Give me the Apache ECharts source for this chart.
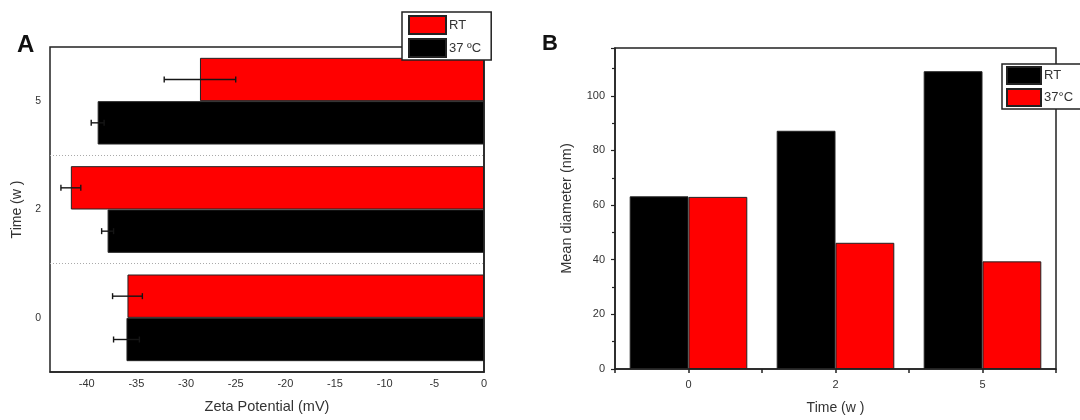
<!DOCTYPE html>
<html>
<head>
<meta charset="utf-8">
<script src="https://cdn.jsdelivr.net/npm/echarts@6/dist/echarts.min.js"></script>
<style>
  html, body { margin: 0; padding: 0; background: #fff; }
  #wrap { position: relative; width: 1080px; height: 420px; }
  #chartA, #chartB { position: absolute; top: 0; width: 540px; height: 420px; }
  #chartA { left: 0; }
  #chartB { left: 540px; }
</style>
</head>
<body>
<div id="wrap">
  <div id="chartA"></div>
  <div id="chartB"></div>
</div>
<script>
// time points (weeks)
const weeks = ['0', '2', '5'];

// panel A: zeta potential (mV)
const zetaRT = [-35.9, -41.6, -28.6];
const zetaRTErr = [1.5, 1.0, 3.6];
const zeta37 = [-36.0, -37.9, -38.9];
const zeta37Err = [1.3, 0.6, 0.65];

// panel B: mean diameter (nm)
const diamRT = [63.2, 87.2, 109.0];
const diam37 = [63.0, 46.2, 39.4];

const FONT = '"Liberation Sans", Arial, sans-serif';
const TXT = '#333';
const FRAME = '#222';

// horizontal error bars, shifted within the band to sit on the right bar
function errorBars(values, errs, shift) {
  return {
    type: 'custom',
    z: 5,
    silent: true,
    data: values.map((v, i) => [i, v, errs[i]]),
    encode: { x: 1, y: 0 },
    renderItem: function (params, api) {
      const cat = api.value(0);
      const v = api.value(1);
      const e = api.value(2);
      const band = api.size([0, 1])[1];
      const lo = api.coord([v - e, cat]);
      const hi = api.coord([v + e, cat]);
      const y = lo[1] + shift * band;
      const cap = 3;
      const st = { stroke: '#151515', lineWidth: 1.4 };
      return {
        type: 'group',
        children: [
          { type: 'line', shape: { x1: lo[0], y1: y, x2: hi[0], y2: y }, style: st },
          { type: 'line', shape: { x1: lo[0], y1: y - cap, x2: lo[0], y2: y + cap }, style: st },
          { type: 'line', shape: { x1: hi[0], y1: y - cap, x2: hi[0], y2: y + cap }, style: st }
        ]
      };
    }
  };
}

const chartA = echarts.init(document.getElementById('chartA'));
chartA.setOption({
  animation: false,
  textStyle: { fontFamily: FONT },
  title: {
    text: 'A', left: 17, top: 33, padding: 0,
    textStyle: { fontSize: 24, fontWeight: 'bold', color: '#111', fontFamily: FONT }
  },
  legend: {
    orient: 'vertical',
    left: 402, top: 12,
    padding: [3, 10, 2, 6],
    icon: 'rect',
    itemWidth: 37, itemHeight: 18, itemGap: 3,
    backgroundColor: '#fff',
    borderColor: FRAME, borderWidth: 1.5,
    textStyle: { fontSize: 13, color: TXT, padding: [0, 0, 0, -2] },
    data: ['RT', '37 ºC']
  },
  grid: {
    show: true,
    left: 50, right: 56, top: 47, bottom: 48,
    borderColor: FRAME, borderWidth: 1.5
  },
  xAxis: {
    type: 'value',
    min: -43.7, max: 0,
    splitNumber: 9,
    axisLine: { show: true, lineStyle: { color: FRAME, width: 1.5 } },
    axisTick: { show: false },
    splitLine: { show: false },
    axisLabel: {
      fontSize: 11, color: TXT, margin: 6,
      formatter: v => (Math.abs(v % 5) < 1e-6 ? String(v) : '')
    },
    name: 'Zeta Potential (mV)',
    nameLocation: 'middle', nameGap: 27,
    nameTextStyle: { fontSize: 14.5, color: TXT }
  },
  yAxis: {
    type: 'category',
    data: weeks,
    axisLine: { show: true, lineStyle: { color: FRAME, width: 1.5 } },
    axisTick: { show: false },
    axisLabel: { fontSize: 10.5, color: TXT, margin: 9 },
    splitLine: {
      show: true, showMinLine: false, showMaxLine: false,
      lineStyle: { color: '#aaa', type: [1, 2], width: 1 }
    },
    name: 'Time (w )',
    nameLocation: 'middle', nameGap: 24,
    nameTextStyle: { fontSize: 14, color: TXT }
  },
  series: [
    {
      name: 'RT', type: 'bar', data: zetaRT,
      barGap: '0%', barCategoryGap: '20%',
      itemStyle: { color: '#ff0000', borderColor: '#222', borderWidth: 1 }
    },
    {
      name: '37 ºC', type: 'bar', data: zeta37,
      barGap: '0%', barCategoryGap: '20%',
      itemStyle: { color: '#000', borderColor: '#222', borderWidth: 1 }
    },
    errorBars(zetaRT, zetaRTErr, -0.2),
    errorBars(zeta37, zeta37Err, 0.2)
  ]
});

const chartB = echarts.init(document.getElementById('chartB'));
chartB.setOption({
  animation: false,
  textStyle: { fontFamily: FONT },
  title: {
    text: 'B', left: 2, top: 33, padding: 0,
    textStyle: { fontSize: 22, fontWeight: 'bold', color: '#111', fontFamily: FONT }
  },
  legend: {
    orient: 'vertical',
    left: 462, top: 64,
    padding: [2, 12, 2, 4],
    icon: 'rect',
    itemWidth: 34, itemHeight: 17, itemGap: 3,
    backgroundColor: '#fff',
    borderColor: FRAME, borderWidth: 1.5,
    textStyle: { fontSize: 13, color: TXT, padding: [0, 0, 0, -2] },
    data: ['RT', '37°C']
  },
  grid: {
    show: true,
    left: 75, right: 24, top: 48, bottom: 44,
    borderColor: FRAME, borderWidth: 1.5
  },
  xAxis: [
    {
      type: 'category',
      position: 'bottom',
      data: weeks,
      axisLine: { show: true, lineStyle: { color: FRAME, width: 1.5 } },
      axisTick: { show: true, alignWithLabel: false, length: 4, lineStyle: { color: FRAME, width: 1.5 } },
      axisLabel: { fontSize: 11, color: TXT, margin: 10 },
      name: 'Time (w )',
      nameLocation: 'middle', nameGap: 32,
      nameTextStyle: { fontSize: 14, color: TXT }
    },
    {
      type: 'category',
      position: 'bottom',
      data: weeks,
      axisLine: { show: false },
      axisTick: { show: true, alignWithLabel: true, length: 4, lineStyle: { color: FRAME, width: 1.5 } },
      axisLabel: { show: false }
    }
  ],
  yAxis: {
    type: 'value',
    min: 0, max: 117.5, interval: 20,
    axisLine: { show: true, lineStyle: { color: FRAME, width: 1.5 } },
    axisTick: { show: true, length: 4, lineStyle: { color: FRAME, width: 1.2 } },
    minorTick: { show: true, splitNumber: 2, length: 3, lineStyle: { color: FRAME, width: 1.2 } },
    splitLine: { show: false },
    axisLabel: {
      fontSize: 11, color: TXT, margin: 10,
      formatter: v => (v > 100 ? '' : String(v))
    },
    name: 'Mean diameter (nm)',
    nameLocation: 'middle', nameGap: 41,
    nameTextStyle: { fontSize: 14.5, color: TXT }
  },
  series: [
    {
      name: 'RT', type: 'bar', data: diamRT,
      barGap: '0%', barCategoryGap: '20%',
      itemStyle: { color: '#000', borderColor: '#222', borderWidth: 1 }
    },
    {
      name: '37°C', type: 'bar', data: diam37,
      barGap: '0%', barCategoryGap: '20%',
      itemStyle: { color: '#ff0000', borderColor: '#222', borderWidth: 1 }
    }
  ]
});
</script>
</body>
</html>
